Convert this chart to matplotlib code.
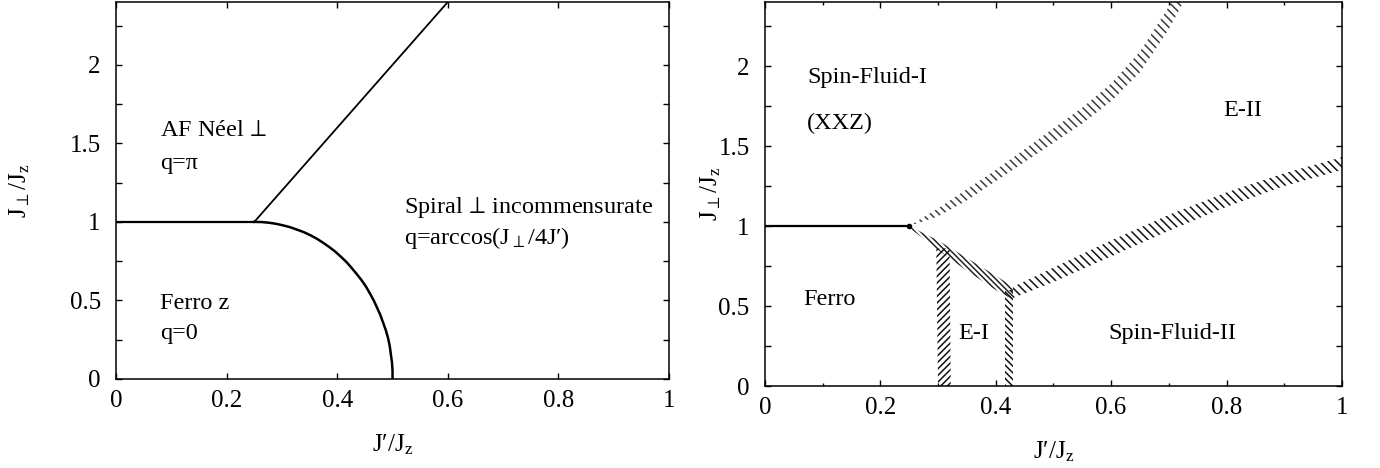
import matplotlib
matplotlib.use("Agg")
import matplotlib.pyplot as plt
from matplotlib.ticker import MultipleLocator, FuncFormatter

plt.rcParams['font.family'] = ['Liberation Serif', 'DejaVu Serif']
plt.rcParams['mathtext.fontset'] = 'stix'
plt.rcParams['hatch.linewidth'] = 1.1

# ---- left panel: classical phase boundaries ----
flat_x = [0.0, 0.25]
flat_y = [1.0, 1.0]
# Ferro / Spiral boundary
arc_x = [0.250, 0.263, 0.276, 0.289, 0.302, 0.315, 0.327, 0.340, 0.352, 0.364,
         0.375, 0.386, 0.397, 0.407, 0.417, 0.426, 0.435, 0.444, 0.452, 0.459,
         0.466, 0.472, 0.478, 0.483, 0.488, 0.492, 0.495, 0.497, 0.499, 0.500,
         0.500]
arc_y = [1.000, 0.999, 0.995, 0.988, 0.978, 0.966, 0.951, 0.934, 0.914, 0.891,
         0.866, 0.839, 0.809, 0.777, 0.743, 0.707, 0.669, 0.629, 0.588, 0.545,
         0.500, 0.454, 0.407, 0.358, 0.309, 0.259, 0.208, 0.156, 0.105, 0.052,
         0.000]
# AF Neel / Spiral boundary
neel_x = [0.25, 0.60]
neel_y = [1.0, 2.4]

# ---- right panel: quantum phase boundaries (hatched bands) ----
ferro_x = [0.0, 0.25]
ferro_y = [1.0, 1.0]

sf1_x = [0.25, 0.30, 0.35, 0.40, 0.45, 0.50, 0.55, 0.60, 0.65, 0.70, 0.74]
sf1_lo = [1.00, 1.06, 1.16, 1.28, 1.40, 1.52, 1.64, 1.78, 1.96, 2.23, 2.50]
sf1_hi = [1.00, 1.11, 1.23, 1.35, 1.48, 1.61, 1.74, 1.89, 2.09, 2.37, 2.66]

mid_x = [0.25, 0.30, 0.35, 0.40, 0.43]
mid_lo = [0.99, 0.85, 0.72, 0.60, 0.54]
mid_hi = [1.00, 0.91, 0.80, 0.69, 0.62]

sf2_x = [0.43, 0.50, 0.60, 0.70, 0.80, 0.90, 1.00]
sf2_lo = [0.55, 0.65, 0.81, 0.97, 1.12, 1.25, 1.35]
sf2_hi = [0.62, 0.74, 0.91, 1.07, 1.21, 1.33, 1.43]

e1a_y = [0.0, 0.86]
e1a_lo = [0.300, 0.297]
e1a_hi = [0.322, 0.320]

e1b_y = [0.0, 0.60]
e1b_lo = [0.416, 0.416]
e1b_hi = [0.430, 0.430]

fig = plt.figure(figsize=(13.8, 4.68), dpi=100)
ax1 = fig.add_axes([0.0841, 0.1902, 0.4007, 0.8056])
ax2 = fig.add_axes([0.5543, 0.1752, 0.4181, 0.8205])

fmt = FuncFormatter(lambda v, p: '%g' % round(v, 2))
for ax in (ax1, ax2):
    ax.set_xlim(0, 1)
    ax.set_ylim(0, 2.4)
    ax.xaxis.set_major_locator(MultipleLocator(0.2))
    ax.yaxis.set_major_locator(MultipleLocator(0.5))
    ax.yaxis.set_minor_locator(MultipleLocator(0.25))
    ax.xaxis.set_major_formatter(fmt)
    ax.yaxis.set_major_formatter(fmt)
    ax.tick_params(which='both', direction='in', top=True, right=True,
                   labelsize=18, width=1.0)
    ax.tick_params(which='major', length=4.5)
    ax.tick_params(axis='x', which='major', pad=8)
    ax.tick_params(axis='y', which='major', pad=11)
    ax.tick_params(axis='y', which='minor', length=4.5)
    for s in ax.spines.values():
        s.set_linewidth(1.1)
    ax.set_xlabel("J\u2032/J$_\\mathregular{z}$", fontsize=18)
    ax.set_ylabel("J$_\\perp$/J$_\\mathregular{z}$", fontsize=18)

ax2.xaxis.set_minor_locator(MultipleLocator(0.1))
ax2.tick_params(axis='x', which='minor', length=2.2)

ax1.xaxis.set_label_coords(0.5, -0.143)
ax1.yaxis.set_label_coords(-0.152, 0.5)
ax2.xaxis.set_label_coords(0.5, -0.14)
ax2.yaxis.set_label_coords(-0.072, 0.5)

# left panel
ax1.plot(flat_x, flat_y, color='black', lw=1.6)
ax1.plot(arc_x, arc_y, color='black', lw=1.8)
ax1.plot(neel_x, neel_y, color='black', lw=1.3)

tsize = 17.5
ax1.text(0.08, 1.58, "AF N\u00e9el$\\,{\\perp}$", fontsize=tsize, va='center')
ax1.text(0.08, 1.37, "q=\u03c0", fontsize=tsize, va='center')
ax1.text(0.08, 0.48, "Ferro z", fontsize=tsize, va='center')
ax1.text(0.08, 0.29, "q=0", fontsize=tsize, va='center')
ax1.text(0.52, 1.09, "Spiral$\\,{\\perp}\\,$incommensurate", fontsize=tsize, va='center')
ax1.text(0.52, 0.90, "q=arccos(J$_{\\perp}$/4J\u2032)", fontsize=tsize, va='center')

# right panel
ax2.plot(ferro_x, ferro_y, color='black', lw=1.6)
ax2.plot([ferro_x[-1]], [ferro_y[-1]], 'o', color='black', ms=3)

band = dict(facecolor='none', linewidth=0)
ax2.fill_between(sf1_x, sf1_lo, sf1_hi, edgecolor='#3a3a3a', hatch='\\' * 4, **band)
ax2.fill_between(mid_x, mid_lo, mid_hi, edgecolor='#222222', hatch='\\' * 6, **band)
ax2.fill_between(sf2_x, sf2_lo, sf2_hi, edgecolor='#111111', hatch='\\' * 4, **band)
ax2.fill_betweenx(e1a_y, e1a_lo, e1a_hi, edgecolor='#111111', hatch='/' * 5, **band)
ax2.fill_betweenx(e1b_y, e1b_lo, e1b_hi, edgecolor='#111111', hatch='\\' * 5, **band)

ax2.text(0.073, 1.93, "Spin-Fluid-I", fontsize=tsize, va='center')
ax2.text(0.073, 1.64, "(XXZ)", fontsize=tsize, va='center')
ax2.text(0.795, 1.725, "E-II", fontsize=tsize, va='center')
ax2.text(0.066, 0.54, "Ferro", fontsize=tsize, va='center')
ax2.text(0.335, 0.33, "E-I", fontsize=tsize, va='center')
ax2.text(0.596, 0.33, "Spin-Fluid-II", fontsize=tsize, va='center')

fig.savefig("out.png", dpi=100)
